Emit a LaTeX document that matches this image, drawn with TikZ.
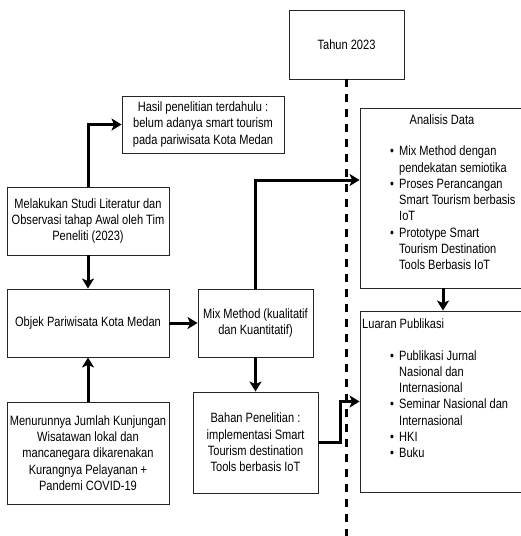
\documentclass[tikz,border=0pt]{standalone}
\usepackage{fontspec}
\setmainfont[FakeStretch=0.82]{Liberation Sans}
\usetikzlibrary{arrows.meta}
\newcommand{\bul}{\makebox[9pt][l]{\textbullet}}
\newcommand{\nob}{\hspace*{9pt}}
\begin{document}
\begin{tikzpicture}[x=1pt,y=-1pt,
  box/.style={draw=black!85, line width=0.9pt, fill=white, align=center, inner sep=0pt,
    font=\fontsize{13.5}{16.4}\selectfont},
  txt/.style={inner sep=0pt, align=left, font=\fontsize{13.5}{16.3}\selectfont},
  conn/.style={line width=3pt, -{Stealth[length=10pt,width=12pt,inset=2.5pt]}},
  dashline/.style={line width=3pt, dash pattern=on 8pt off 7pt}]
\useasboundingbox (0,0) rectangle (520,536);
% timeline
\node[box, minimum width=115pt, minimum height=69pt] (tahun) at (346.5,44.5) {Tahun 2023};
\coordinate (dashend) at (346.5,540);
\draw[dashline] (tahun.south) -- (dashend);
% left boxes
\node[box, minimum width=162pt, minimum height=57pt] (hasil) at (203,124.5)
  {Hasil penelitian terdahulu :\\belum adanya smart tourism\\pada pariwisata Kota Medan};
\node[box, minimum width=162pt, minimum height=68pt] (studi) at (88,221)
  {Melakukan Studi Literatur dan\\Observasi tahap Awal oleh Tim\\Peneliti (2023)};
\node[box, minimum width=162pt, minimum height=68pt] (objek) at (88,323)
  {Objek Pariwisata Kota Medan};
\node[box, minimum width=115pt, minimum height=68pt] (mix) at (255.5,323)
  {Mix Method (kualitatif\\dan Kuantitatif)};
\node[box, minimum width=162pt, minimum height=102pt] (turun) at (88,453)
  {Menurunnya Jumlah Kunjungan\\Wisatawan lokal dan\\mancanegara dikarenakan\\Kurangnya Pelayanan +\\Pandemi COVID-19};
\node[box, minimum width=125pt, minimum height=101pt] (bahan) at (255.5,442.5)
  {Bahan Penelitian :\\implementasi Smart\\Tourism destination\\Tools berbasis IoT};
% right boxes
\node[box, minimum width=166pt, minimum height=180pt] (analisis) at (443,198) {};
\node[box, minimum width=166pt, minimum height=181pt] (luaran) at (443,401.5) {};
\node[txt] (antitle) at (442,120) {Analisis Data};
\node[txt, anchor=base west] (anlist) at (390,269.8)
  {\bul Mix Method dengan\\
   \nob pendekatan semiotika\\
   \bul Proses Perancangan\\
   \nob Smart Tourism berbasis\\
   \nob IoT\\
   \bul Prototype Smart\\
   \nob Tourism Destination\\
   \nob Tools Berbasis IoT};
\node[txt, anchor=west] (lutitle) at (362,324) {Luaran Publikasi};
\node[txt, anchor=base west] (lulist) at (390,457.8)
  {\bul Publikasi Jurnal\\
   \nob Nasional dan\\
   \nob Internasional\\
   \bul Seminar Nasional dan\\
   \nob Internasional\\
   \bul HKI\\
   \bul Buku};
% connectors
\draw[conn] (studi.north) |- (hasil.west);
\draw[conn] (studi.south) -- (objek.north);
\draw[conn] (turun.north) -- (objek.south);
\draw[conn] (objek.east) -- (mix.west);
\draw[conn] (mix.south) -- (bahan.north);
\draw[conn] (mix.north) |- ([yshift=18pt]analisis.west);
\draw[conn] (analisis.south) -- (luaran.north);
\draw[conn] (bahan.east) -- ++(22,0) |- (luaran.west);
\end{tikzpicture}
\end{document}
